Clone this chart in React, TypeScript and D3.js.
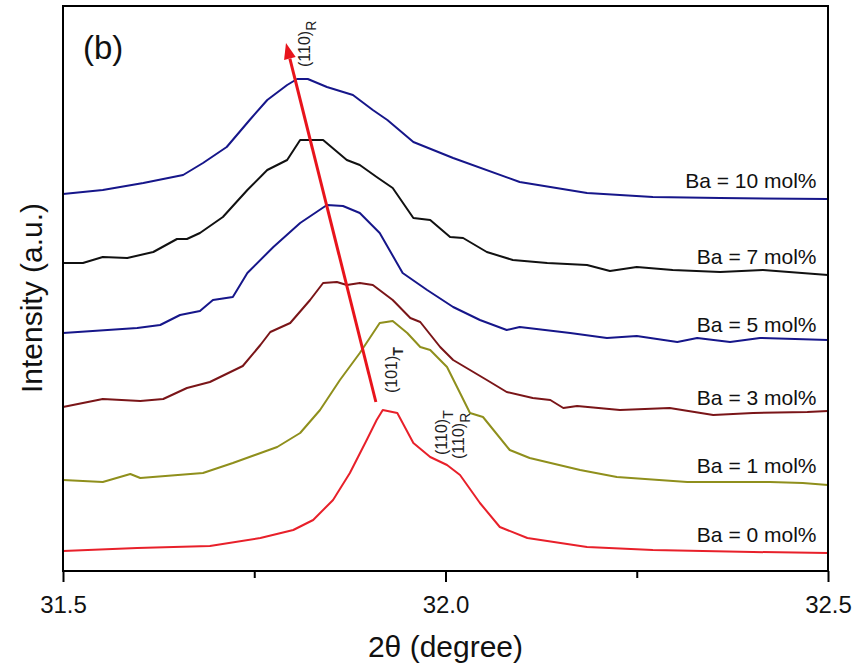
import * as d3 from "d3";
import { useEffect, useRef } from "react";

// 2θ (degree) vs intensity (a.u.)
const ba0: [number, number][] = [
  [31.5, 20], [31.597, 23], [31.692, 25], [31.758, 33], [31.801, 41], [31.827, 51],
  [31.853, 71], [31.875, 98], [31.897, 131], [31.91, 151], [31.918, 161], [31.937, 158],
  [31.958, 128], [31.98, 114], [32.002, 106], [32.019, 96], [32.045, 68], [32.071, 44],
  [32.107, 33], [32.185, 24], [32.271, 21], [32.402, 19], [32.5, 18],
];
const ba1: [number, number][] = [
  [31.5, 91], [31.552, 89], [31.588, 97], [31.601, 93], [31.683, 98], [31.722, 108],
  [31.78, 124], [31.81, 138], [31.836, 161], [31.862, 191], [31.888, 218], [31.914, 248],
  [31.931, 250], [31.95, 238], [31.967, 224], [31.98, 221], [32.002, 204], [32.019, 178],
  [32.032, 158], [32.049, 154], [32.084, 121], [32.11, 113], [32.176, 101], [32.224, 94],
  [32.316, 89], [32.424, 89], [32.467, 88], [32.5, 86],
];
const ba3: [number, number][] = [
  [31.5, 164], [31.552, 172], [31.601, 170], [31.631, 172], [31.662, 183], [31.692, 189],
  [31.735, 205], [31.758, 226], [31.771, 239], [31.797, 248], [31.823, 271], [31.84, 288],
  [31.858, 289], [31.871, 286], [31.888, 288], [31.905, 286], [31.931, 271], [31.954, 253],
  [31.967, 249], [31.993, 224], [32.01, 211], [32.054, 191], [32.08, 179], [32.114, 173],
  [32.137, 171], [32.154, 163], [32.172, 165], [32.228, 161], [32.293, 163], [32.35, 156],
  [32.402, 158], [32.473, 159], [32.5, 160],
];
const ba5: [number, number][] = [
  [31.5, 238], [31.597, 243], [31.627, 246], [31.653, 256], [31.679, 260], [31.696, 271],
  [31.722, 274], [31.741, 298], [31.775, 324], [31.81, 348], [31.845, 366], [31.866, 365],
  [31.888, 358], [31.914, 338], [31.944, 298], [31.976, 281], [32.01, 264], [32.045, 251],
  [32.08, 241], [32.097, 244], [32.163, 238], [32.211, 233], [32.25, 235], [32.303, 229],
  [32.329, 233], [32.372, 229], [32.411, 233], [32.5, 231],
];
const ba7: [number, number][] = [
  [31.5, 308], [31.526, 308], [31.552, 314], [31.584, 313], [31.618, 319], [31.649, 332],
  [31.662, 332], [31.679, 338], [31.709, 354], [31.741, 381], [31.767, 401], [31.793, 411],
  [31.81, 431], [31.84, 431], [31.871, 411], [31.888, 406], [31.91, 394], [31.931, 383],
  [31.958, 353], [31.98, 351], [32.006, 334], [32.023, 333], [32.054, 319], [32.088, 311],
  [32.133, 308], [32.185, 306], [32.215, 300], [32.25, 304], [32.297, 301], [32.359, 299],
  [32.415, 301], [32.5, 296],
];
const ba10: [number, number][] = [
  [31.5, 377], [31.552, 381], [31.605, 388], [31.657, 396], [31.683, 408], [31.714, 424],
  [31.744, 451], [31.767, 471], [31.793, 486], [31.806, 492], [31.82, 492], [31.845, 484],
  [31.879, 476], [31.905, 461], [31.924, 451], [31.958, 429], [32.01, 413], [32.097, 389],
  [32.185, 378], [32.271, 374], [32.359, 373], [32.5, 372],
];

const series = [ba0, ba1, ba3, ba5, ba7, ba10];
const seriesLabels = ["Ba = 0 mol%", "Ba = 1 mol%", "Ba = 3 mol%", "Ba = 5 mol%", "Ba = 7 mol%", "Ba = 10 mol%"];
const labelLevels = [29, 98, 166, 239, 307, 383];
const colors = ["#e8202a", "#8f8f1c", "#7a1518", "#16168a", "#111111", "#16168a"];

const majorTicks = [31.5, 32.0, 32.5];
const minorTicks = [31.75, 32.25];

// shift arrow (tail -> head) and peak labels, in data units
const arrowPts: [number, number][] = [[31.909, 169], [31.7915, 528]];
const peakNotes = [
  { main: "(110)", sub: "R", at: [31.823, 504], bold: false },
  { main: "(101)", sub: "T", at: [31.937, 178], bold: true },
  { main: "(110)", sub: "T", at: [32.002, 116], bold: false },
  { main: "(110)", sub: "R", at: [32.024, 112], bold: false },
];

const App = () => {
  const svgRef = useRef<SVGSVGElement>(null);
  useEffect(() => {
    if (!svgRef.current) return;
    const svg = d3.select(svgRef.current);
    svg.selectAll("*").remove();

    const width = 857;
    const height = 672;
    const marginTop = 6;
    const marginRight = 29;
    const marginBottom = 101;
    const marginLeft = 63;
    const font = "'Liberation Sans', Arial, sans-serif";

    const x = d3.scaleLinear().domain([31.5, 32.5]).range([marginLeft, width - marginRight]);
    const y = d3.scaleLinear().domain([0, 565]).range([height - marginBottom, marginTop]);

    const line = d3
      .line<[number, number]>()
      .x((d) => x(d[0]))
      .y((d) => y(d[1]));

    // curves
    svg
      .append("g")
      .attr("fill", "none")
      .attr("stroke-width", 2)
      .attr("stroke-linejoin", "round")
      .attr("stroke-linecap", "round")
      .selectAll("path")
      .data(series)
      .join("path")
      .attr("stroke", (_, i) => colors[i])
      .attr("d", (d) => line(d));

    // sample labels
    svg
      .append("g")
      .attr("font-family", font)
      .attr("font-size", 21)
      .attr("text-anchor", "end")
      .selectAll("text")
      .data(seriesLabels)
      .join("text")
      .attr("x", x(32.485))
      .attr("y", (_, i) => y(labelLevels[i]))
      .attr("fill", "#111")
      .text((d) => d);

    // arrow
    const [x0, y0] = [x(arrowPts[0][0]), y(arrowPts[0][1])];
    const [x1, y1] = [x(arrowPts[1][0]), y(arrowPts[1][1])];
    const ang = Math.atan2(y1 - y0, x1 - x0);
    const headLen = 16;
    const headW = 6;
    const bx = x1 - headLen * Math.cos(ang);
    const by = y1 - headLen * Math.sin(ang);
    svg
      .append("line")
      .attr("x1", x0)
      .attr("y1", y0)
      .attr("x2", bx)
      .attr("y2", by)
      .attr("stroke", "#e8141c")
      .attr("stroke-width", 3);
    svg
      .append("polygon")
      .attr(
        "points",
        [
          [x1, y1],
          [bx + headW * Math.sin(ang), by - headW * Math.cos(ang)],
          [bx - headW * Math.sin(ang), by + headW * Math.cos(ang)],
        ]
          .map((p) => p.join(","))
          .join(" ")
      )
      .attr("fill", "#e8141c");

    // peak labels
    const notes = svg
      .append("g")
      .attr("font-family", font)
      .attr("fill", "#222")
      .selectAll("text")
      .data(peakNotes)
      .join("text")
      .attr("transform", (d) => `translate(${x(d.at[0])},${y(d.at[1])}) rotate(-90)`)
      .attr("font-size", 16);
    notes.append("tspan").text((d) => d.main);
    notes
      .append("tspan")
      .attr("dy", 6)
      .attr("font-size", 14)
      .attr("font-weight", (d) => (d.bold ? "bold" : "normal"))
      .text((d) => d.sub);

    // frame
    svg
      .append("rect")
      .attr("x", marginLeft)
      .attr("y", marginTop)
      .attr("width", width - marginLeft - marginRight)
      .attr("height", height - marginTop - marginBottom)
      .attr("fill", "none")
      .attr("stroke", "#000")
      .attr("stroke-width", 2);

    // bottom axis
    const axisY = height - marginBottom;
    const xAxis = svg
      .append("g")
      .attr("transform", `translate(0,${axisY})`)
      .call(
        d3
          .axisBottom(x)
          .tickValues(majorTicks)
          .tickSize(11)
          .tickPadding(14)
          .tickFormat(d3.format(".1f"))
      );
    xAxis.select(".domain").remove();
    xAxis.selectAll("line").attr("stroke", "#000").attr("stroke-width", 2);
    xAxis
      .selectAll("text")
      .attr("font-family", font)
      .attr("font-size", 24)
      .attr("fill", "#111");
    svg
      .append("g")
      .attr("transform", `translate(0,${axisY})`)
      .call(d3.axisBottom(x).tickValues(minorTicks).tickSize(7).tickFormat(() => ""))
      .call((g) => g.select(".domain").remove())
      .call((g) => g.selectAll("line").attr("stroke", "#000").attr("stroke-width", 2));

    // titles
    svg
      .append("text")
      .attr("x", (marginLeft + width - marginRight) / 2)
      .attr("y", 657)
      .attr("text-anchor", "middle")
      .attr("font-family", font)
      .attr("font-size", 30)
      .attr("fill", "#111")
      .text("2θ (degree)");
    svg
      .append("text")
      .attr("transform", "translate(42,298) rotate(-90)")
      .attr("text-anchor", "middle")
      .attr("font-family", font)
      .attr("font-size", 30)
      .attr("fill", "#111")
      .text("Intensity (a.u.)");
    svg
      .append("text")
      .attr("x", 83)
      .attr("y", 59)
      .attr("font-family", font)
      .attr("font-size", 33)
      .attr("fill", "#111")
      .text("(b)");
  }, []);
  return (
    <svg
      ref={svgRef}
      width={857}
      height={672}
      style={{ position: "absolute", left: 0, top: 0, background: "#fff" }}
    ></svg>
  );
};

export default App;
